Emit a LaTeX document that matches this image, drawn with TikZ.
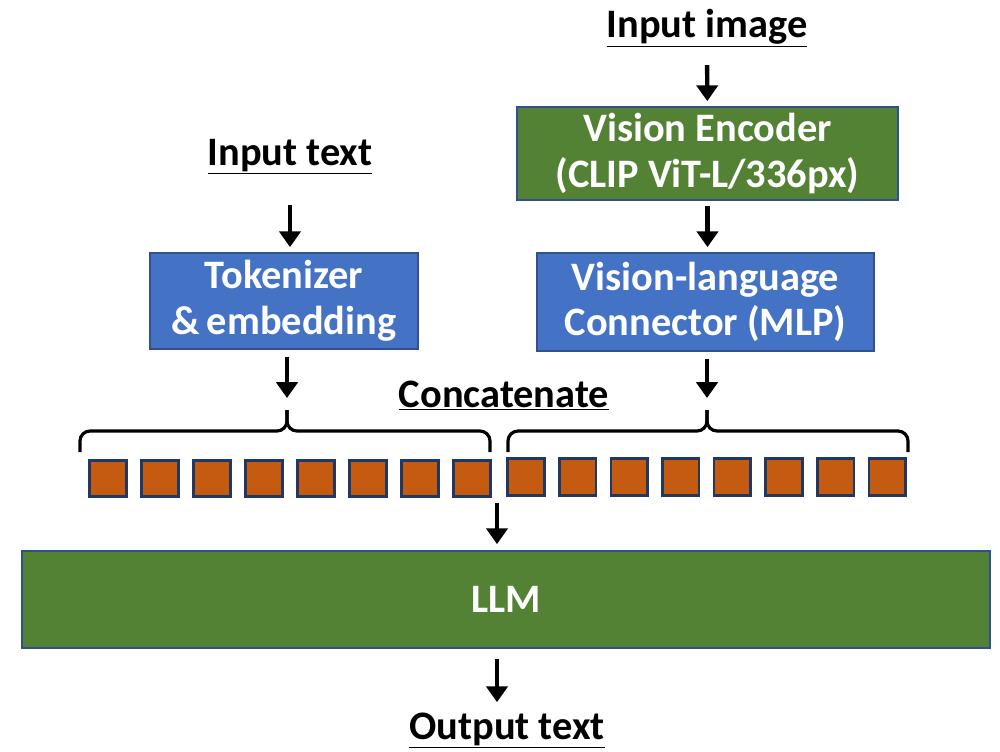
\documentclass[tikz,border=0pt]{standalone}
\usepackage{fontspec}
\setmainfont{Carlito}
\usetikzlibrary{arrows.meta}
\definecolor{boxgreen}{HTML}{548235}
\definecolor{boxblue}{HTML}{4472C4}
\definecolor{boxedge}{HTML}{2F528F}
\definecolor{tokorange}{HTML}{C55A11}
\definecolor{tokedge}{HTML}{203864}
\tikzset{
  block/.style={draw=boxedge,line width=1pt,text=white,align=center,inner sep=0pt,
    font=\bfseries\fontsize{23}{26}\selectfont},
  headline/.style={inner sep=0pt,font=\bfseries\fontsize{23}{26}\selectfont},
  tok/.style={draw=tokedge,line width=1.5pt,fill=tokorange,minimum size=0.73cm,inner sep=0pt},
  pfeil/.style={line width=2.5pt,-{Triangle[width=12pt,length=9pt]}},
  klammer/.style={line width=1.8pt,rounded corners=0.2cm}
}
\begin{document}
\begin{tikzpicture}[x=0.02cm,y=-0.02cm]
  \useasboundingbox (0,0) rectangle (1000,751);
  % Ueberschriften
  \node[headline,anchor=base] (inimg) at (707,37) {\underline{Input image}};
  \node[headline,anchor=base] (intext) at (290,165) {\underline{Input text}};
  \node[headline,anchor=base] (concat) at (504,407) {\underline{Concatenate}};
  \node[headline,anchor=base] (outtext) at (507,739) {\underline{Output text}};
  % Bloecke
  \node[block,fill=boxgreen,minimum width=7.62cm,minimum height=1.86cm] (venc) at (707.5,153.5)
    {Vision Encoder\\(CLIP ViT-L/336px)};
  \node[block,fill=boxblue,minimum width=6.74cm,minimum height=1.96cm] (vlc) at (705.5,302)
    {Vision-language\\Connector (MLP)};
  \node[block,fill=boxblue,minimum width=5.36cm,minimum height=1.92cm] (tokemb) at (284,301)
    {Tokenizer\\\&\,embedding};
  \node[block,fill=boxgreen,minimum width=19.36cm,minimum height=1.94cm] (llm) at (506,599.5) {LLM};
  % Tokens
  \foreach \i in {0,...,7}
    \node[tok] (tl\i) at (108+52*\i,478.5) {};
  \foreach \i in {0,...,7}
    \node[tok] (tr\i) at (526+51.6*\i,477) {};
  % Klammern
  \coordinate (lspitze) at (287,410);
  \coordinate (rspitze) at (707,410);
  \coordinate (mitte) at (497,497);
  \draw[klammer] (80,452) -- (80,431) -- (287,431) -- (lspitze);
  \draw[klammer] (lspitze) -- (287,431) -- (490,431) -- (490,452);
  \draw[klammer] (508,452) -- (508,431) -- (707,431) -- (rspitze);
  \draw[klammer] (rspitze) -- (707,431) -- (908,431) -- (908,452);
  % Pfeile
  \draw[pfeil,shorten <=0.35cm,shorten >=0.1cm] (inimg) -- (venc);
  \draw[pfeil,shorten <=0.1cm,shorten >=0.1cm] (venc) -- (vlc.north -| venc);
  \draw[pfeil,shorten <=0.6cm,shorten >=0.1cm] (intext) -- (tokemb.north -| intext);
  \draw[pfeil,shorten <=0.14cm,shorten >=0.24cm] (tokemb.south -| lspitze) -- (lspitze);
  \draw[pfeil,shorten <=0.14cm,shorten >=0.24cm] (vlc.south -| rspitze) -- (rspitze);
  \draw[pfeil,shorten <=0.12cm,shorten >=0.12cm] (mitte) -- (mitte |- llm.north);
  \draw[pfeil,shorten <=0.2cm,shorten >=0.2cm] (mitte |- llm.south) -- (mitte |- outtext.north);
\end{tikzpicture}
\end{document}
